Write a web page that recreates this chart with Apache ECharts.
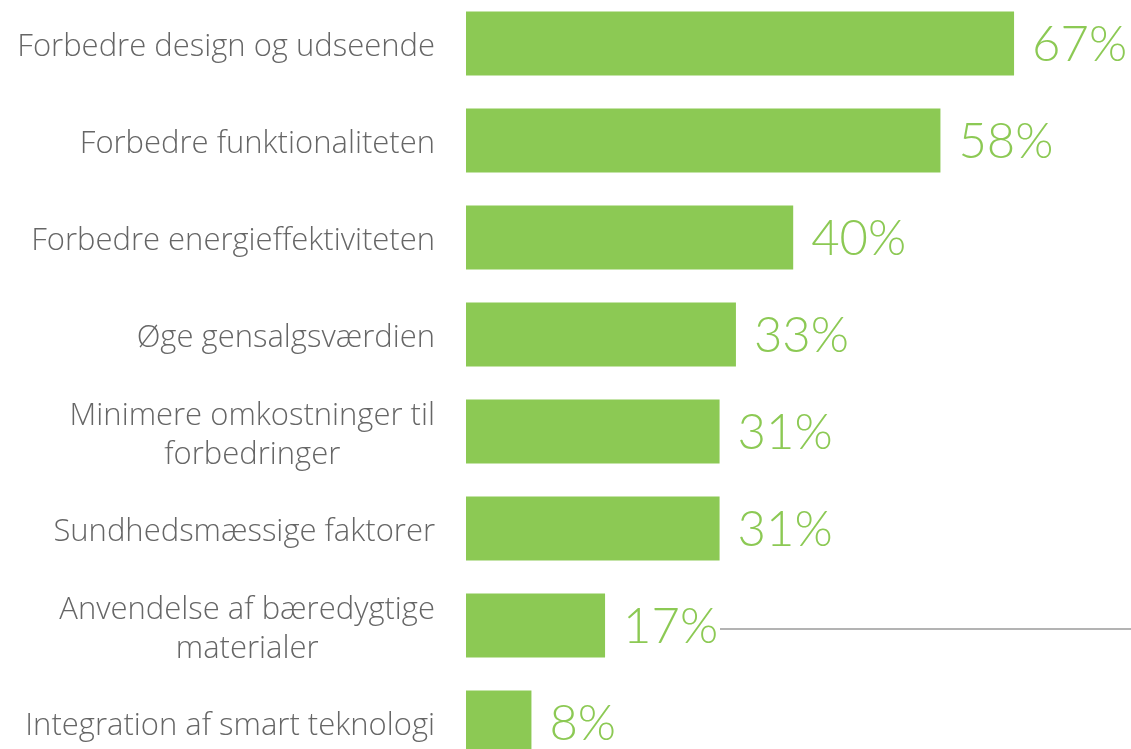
<!DOCTYPE html>
<html>
<head>
<meta charset="utf-8">
<script src="https://cdn.jsdelivr.net/npm/echarts@6/dist/echarts.min.js"></script>
<style>
  html, body { margin: 0; padding: 0; background: #fff; }
  #chart { width: 1131px; height: 749px; }
</style>
</head>
<body>
<div id="chart"></div>
<script>
  // kategorier (top -> bund)
  var categories = [
    'Forbedre design og udseende',
    'Forbedre funktionaliteten',
    'Forbedre energieffektiviteten',
    'Øge gensalgsværdien',
    'Minimere omkostninger til\nforbedringer',
    'Sundhedsmæssige faktorer',
    'Anvendelse af bæredygtige\nmaterialer',
    'Integration af smart teknologi'
  ];
  var values = [67, 58, 40, 33, 31, 31, 17, 8];

  var green = '#8cc954';
  var labelFont = 'Open Sans';

  var chart = echarts.init(document.getElementById('chart'));
  chart.setOption({
    animation: false,
    grid: { left: 466, top: -5, width: 818, height: 776, outerBoundsMode: 'none' },
    xAxis: {
      type: 'value', min: 0, max: 100, show: false
    },
    yAxis: {
      type: 'category',
      inverse: true,
      data: categories,
      axisLine: { show: false },
      axisTick: { show: false },
      axisLabel: {
        margin: 31,
        align: 'right',
        padding: [8, 0, 0, 0],
        formatter: function (v) {
          // centrer linjerne i ombrudte etiketter
          return v.split('\n').map(function (s) { return '{c|' + s + '}'; }).join('\n');
        },
        rich: {
          c: { align: 'center', fontFamily: labelFont, fontWeight: 300, fontSize: 31, lineHeight: 39, color: '#666' }
        }
      }
    },
    series: [{
      type: 'bar',
      data: values,
      barCategoryGap: '34%',
      itemStyle: { color: green },
      label: {
        show: true,
        position: 'right',
        distance: 18,
        offset: [0, 2],
        formatter: '{c}%',
        fontFamily: 'Lato',
        fontWeight: 300,
        fontSize: 49,
        color: green
      }
    }],
    graphic: [{
      type: 'line',
      shape: { x1: 720, y1: 629, x2: 1131, y2: 629 },
      style: { stroke: '#9a9a9a', lineWidth: 1.5 }
    }]
  });
</script>
</body>
</html>
